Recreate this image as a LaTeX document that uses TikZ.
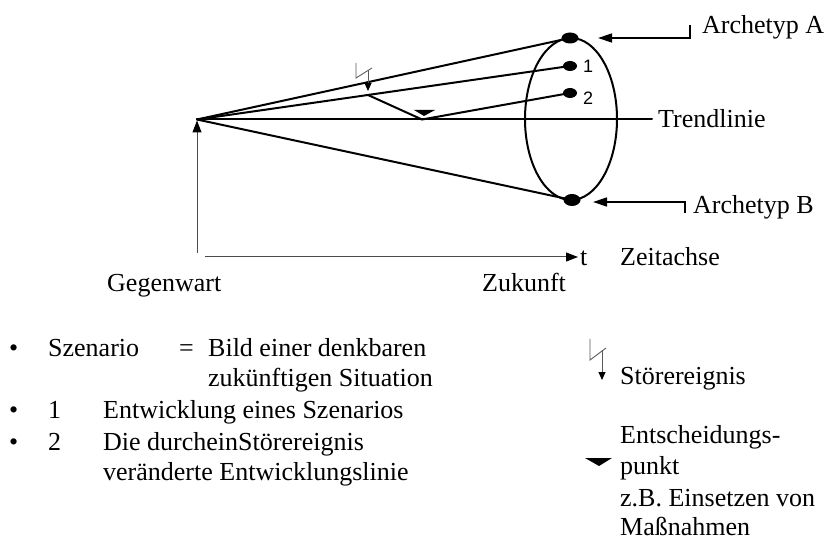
\documentclass[tikz,border=0pt]{standalone}
\usepackage{fontspec}
\setmainfont{Liberation Serif}
\newfontfamily\arialf{Liberation Sans}
\usetikzlibrary{arrows.meta,shapes.geometric}
\begin{document}
\begin{tikzpicture}[x=1pt,y=-1pt,
  txt/.style={inner sep=0pt, anchor=base west, font=\fontsize{26}{31}\selectfont},
  numlab/.style={inner sep=0pt, anchor=base west, font=\arialf\fontsize{18}{20}\selectfont},
  cone/.style={line width=2pt, line cap=round},
  dotmark/.style={fill=black, ellipse, inner sep=0pt},
  axisline/.style={line width=1pt, draw=black!70, -{Triangle[length=12pt,width=9pt,color=black]}},
  pointer/.style={line width=1.5pt, -{Triangle[length=14pt,width=9pt]}},
  boltline/.style={line width=0.9pt, draw=black!65},
  bolttip/.style={line width=0.9pt, draw=black!65, -{Triangle[length=8pt,width=7pt,color=black]}},
]
\useasboundingbox (0,0) rectangle (828,540);

% apex and cone
\coordinate (O) at (197,119.5);
\node[dotmark, minimum width=17pt, minimum height=11pt] (A) at (570,38) {};
\node[dotmark, minimum width=14pt, minimum height=10pt] (P1) at (570,66) {};
\node[dotmark, minimum width=14pt, minimum height=10pt] (P2) at (570,93) {};
\node[dotmark, minimum width=17pt, minimum height=12pt] (B) at (572,200) {};
\node[draw, ellipse, line width=2pt, minimum width=92pt, minimum height=162pt, inner sep=0pt] (E) at (571,119) {};

\coordinate (TE) at (652,119.5);
\coordinate (K1) at (368,95);
\coordinate (K2) at (422,119.5);

\draw[cone] (O) -- (A.center);
\draw[cone] (O) -- (P1.center);
\draw[cone] (O) -- (B.center);
\draw[cone] (O) -- (TE);
\draw[cone] (K1) -- (K2) -- (P2.center);

% disturbance event in the diagram
\coordinate (b1) at (356,63);
\coordinate (b2) at (356,78);
\coordinate (b3) at (372,68);
\coordinate (b4) at (368,70);
\coordinate (b5) at (368,91);
\draw[boltline] (b1) -- (b2) -- (b3);
\draw[bolttip] (b4) -- (b5);

% decision point in the diagram
\fill (414,110) -- (435,110) -- (424,116) -- cycle;

% labels 1, 2
\node[numlab] (n1) at (583,73) {1};
\node[numlab] (n2) at (583,105) {2};

% archetype pointers
\node[txt] (labA) at (702,34) {Archetyp A};
\node[txt] (labB) at (693,214) {Archetyp B};
\coordinate (cA) at (690,25);
\coordinate (cA2) at (690,38);
\coordinate (tA) at (598,38);
\coordinate (cB) at (685,213);
\coordinate (cB2) at (685,202);
\coordinate (tB) at (593,202);
\draw[pointer] (cA) -- (cA2) -- (tA);
\draw[pointer] (cB) -- (cB2) -- (tB);

\node[txt] (trend) at (658,128) {Trendlinie};

% axes
\coordinate (V0) at (197,253);
\coordinate (V1) at (197,120.5);
\coordinate (H0) at (205,257);
\coordinate (H1) at (578,257);
\draw[axisline] (V0) -- (V1);
\draw[axisline] (H0) -- (H1);
\node[txt] (t) at (580,266) {t};
\node[txt] (zeit) at (620,266) {Zeitachse};
\node[txt] (gegen) at (107,292) {Gegenwart};
\node[txt] (zuk) at (482,292) {Zukunft};

% left legend
\node[txt] (bu1) at (9,356) {•};
\node[txt] (sz) at (48,356) {Szenario};
\node[txt] (eq) at (179,356) {=};
\node[txt] (bild) at (208,356) {Bild einer denkbaren};
\node[txt] (situ) at (208,386) {zukünftigen Situation};
\node[txt] (bu2) at (9,418) {•};
\node[txt] (one) at (48,418) {1};
\node[txt] (entw) at (103,418) {Entwicklung eines Szenarios};
\node[txt] (bu3) at (9,450) {•};
\node[txt] (two) at (48,450) {2};
\node[txt] (durch) at (103,450) {Die durcheinStörereignis};
\node[txt] (ver) at (103,480) {veränderte Entwicklungslinie};

% right legend
\coordinate (l1) at (590,339);
\coordinate (l2) at (590,360);
\coordinate (l3) at (606,348);
\coordinate (l4) at (602,350);
\coordinate (l5) at (602,380);
\draw[boltline] (l1) -- (l2) -- (l3);
\draw[bolttip] (l4) -- (l5);
\node[txt] (stoer) at (620,384) {Störereignis};

\fill (585,458) -- (612,458) -- (599,466) -- cycle;
\node[txt] (ents) at (620,443) {Entscheidungs-};
\node[txt] (punkt) at (620,474) {punkt};
\node[txt] (zb) at (620,506) {z.B. Einsetzen von};
\node[txt] (mass) at (620,535) {Maßnahmen};
\end{tikzpicture}
\end{document}
